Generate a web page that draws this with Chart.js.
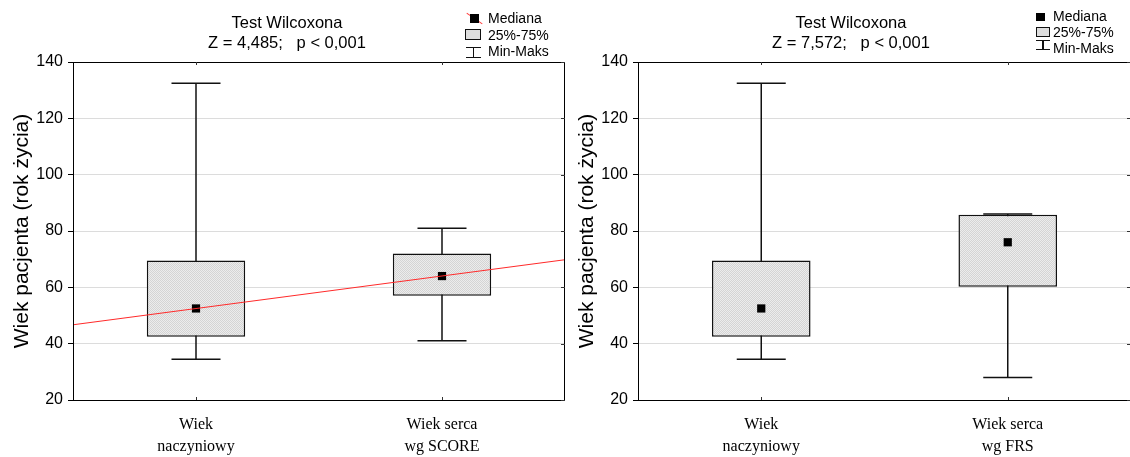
<!DOCTYPE html>
<html>
<head>
<meta charset="utf-8">
<script src="https://cdn.jsdelivr.net/npm/chart.js@4.4.1/dist/chart.umd.min.js"></script>
<style>
  html, body { margin:0; padding:0; background:#fff; }
  #wrap { position:relative; width:1130px; height:457px; overflow:hidden; font-family:"Liberation Sans", Arial, sans-serif; color:#000; }
  canvas { position:absolute; top:0; }
  .title { position:absolute; top:13px; text-align:center; font-size:16.5px; line-height:19.5px; white-space:pre; }
  .lg { position:absolute; font-size:14px; line-height:16px; white-space:nowrap; }
  .ico { position:absolute; box-sizing:border-box; }
</style>
</head>
<body>
<div id="wrap">
  <canvas id="c1" width="568" height="457" style="left:0px"></canvas>
  <canvas id="c2" width="568" height="457" style="left:565px"></canvas>

  <div class="title" style="left:187px; width:200px;">Test Wilcoxona<br>Z = 4,485;&nbsp;&nbsp;&nbsp;p &lt; 0,001</div>
  <div class="title" style="left:751px; width:200px;">Test Wilcoxona<br>Z = 7,572;&nbsp;&nbsp;&nbsp;p &lt; 0,001</div>

  <!-- left legend -->
  <div class="ico" style="left:465px; top:17.5px; width:19px; height:1px; background:#ff3b3b; transform:rotate(35deg); transform-origin:center;"></div>
  <div class="ico" style="left:469.5px; top:13.5px; width:9px; height:9px; background:#000;"></div>
  <div class="lg" style="left:488px; top:10px;">Mediana</div>
  <div class="ico" style="left:465px; top:29px; width:16px; height:11px; background:#dedede; border:1.5px solid #111;"></div>
  <div class="lg" style="left:488px; top:26.5px;">25%-75%</div>
  <div class="ico" style="left:466px; top:46.5px; width:15px; height:1.5px; background:#111;"></div>
  <div class="ico" style="left:472.8px; top:46.5px; width:1.5px; height:11px; background:#111;"></div>
  <div class="ico" style="left:466px; top:56.5px; width:15px; height:1.5px; background:#111;"></div>
  <div class="lg" style="left:488px; top:43px;">Min-Maks</div>

  <!-- right legend -->
  <div class="ico" style="left:1036px; top:12.5px; width:8.5px; height:8.5px; background:#000;"></div>
  <div class="lg" style="left:1053px; top:8px;">Mediana</div>
  <div class="ico" style="left:1035.5px; top:26.5px; width:14px; height:10.5px; background:#dedede; border:1.5px solid #111;"></div>
  <div class="lg" style="left:1053px; top:24px;">25%-75%</div>
  <div class="ico" style="left:1036px; top:39.5px; width:14px; height:1.5px; background:#111;"></div>
  <div class="ico" style="left:1042.3px; top:39.5px; width:1.5px; height:10px; background:#111;"></div>
  <div class="ico" style="left:1036px; top:48.5px; width:14px; height:1.5px; background:#111;"></div>
  <div class="lg" style="left:1053px; top:40px;">Min-Maks</div>
</div>

<script>
// ---- data ----
const categoriesLeft  = [['Wiek', 'naczyniowy'], ['Wiek serca', 'wg SCORE']];
const categoriesRight = [['Wiek', 'naczyniowy'], ['Wiek serca', 'wg FRS']];

const minLeft    = [34.5, 41.0];
const q1Left     = [42.5, 57.0];
const medianLeft = [52.5, 64.0];
const q3Left     = [69.5, 72.0];
const maxLeft    = [132.5, 81.0];

const minRight    = [34.5, 28.0];
const q1Right     = [42.5, 60.2];
const medianRight = [52.5, 76.0];
const q3Right     = [69.5, 85.8];
const maxRight    = [132.5, 86.0];

// red line through medians of the left panel, read at the plot's left/right edges
const trendX    = [-0.5, 1.5];
const trendLeft = [46.7, 69.8];

const yTicks = [20, 40, 60, 80, 100, 120, 140];
const yTitle = 'Wiek pacjenta (rok życia)';

// ---- helpers ----
function makePattern() {
  const c = document.createElement('canvas');
  c.width = 2; c.height = 2;
  const g = c.getContext('2d');
  g.fillStyle = '#ececec'; g.fillRect(0, 0, 2, 2);
  g.fillStyle = '#d4d4d4'; g.fillRect(0, 0, 1, 1); g.fillRect(1, 1, 1, 1);
  return g.createPattern(c, 'repeat');
}

const framePlugin = {
  id: 'frame',
  afterDraw(chart) {
    const {ctx, chartArea: a} = chart;
    ctx.save();
    ctx.strokeStyle = '#000';
    ctx.lineWidth = 1;
    ctx.beginPath();
    ctx.rect(Math.round(a.left) + 0.5, Math.round(a.top) + 0.5,
             Math.round(a.right - a.left) - 1, Math.round(a.bottom - a.top));
    ctx.stroke();
    ctx.strokeStyle = '#333';
    ctx.beginPath();
    const ys = chart.scales.y;
    ys.ticks.forEach(t => {
      const py = Math.round(ys.getPixelForValue(t.value)) + 0.5;
      ctx.moveTo(a.right - 4, py); ctx.lineTo(a.right, py);
    });
    const xs = chart.scales.x;
    xs.ticks.forEach((t, i) => {
      const px = Math.round(xs.getPixelForTick(i)) + 0.5;
      ctx.moveTo(px, a.bottom); ctx.lineTo(px, a.bottom - 3);
      ctx.moveTo(px, a.top); ctx.lineTo(px, a.top + 3);
    });
    ctx.stroke();
    ctx.restore();
  }
};

function build(id, cats, mins, q1s, meds, q3s, maxs, trend, padRight) {
  const pattern = makePattern();
  const datasets = [];
  // boxes
  datasets.push({
    type: 'bar',
    data: q1s.map((v, i) => [v, q3s[i]]),
    backgroundColor: pattern,
    borderColor: '#111',
    borderWidth: 1.5,
    borderSkipped: false,
    grouped: false,
    barPercentage: 0.4,
    categoryPercentage: 1.0,
    xAxisID: 'x', yAxisID: 'y',
    order: 2
  });
  // whiskers
  mins.forEach((mn, i) => {
    datasets.push({
      type: 'line',
      data: [{x: i, y: mn}, {x: i, y: maxs[i]}],
      borderColor: '#111',
      borderWidth: 1.5,
      pointStyle: 'line',
      pointRadius: 24.5,
      pointBorderWidth: 1.5,
      pointBorderColor: '#111',
      xAxisID: 'x2', yAxisID: 'y',
      order: 3
    });
  });
  // medians
  datasets.push({
    type: 'line',
    data: meds.map((v, i) => ({x: i, y: v})),
    showLine: false,
    pointStyle: 'rect',
    pointRadius: 5.8,
    pointBorderWidth: 0,
    pointBackgroundColor: '#000',
    xAxisID: 'x2', yAxisID: 'y',
    order: 1
  });
  if (trend) {
    datasets.push({
      type: 'line',
      data: trendX.map((x, i) => ({x, y: trend[i]})),
      borderColor: '#ff2a2a',
      borderWidth: 1,
      pointRadius: 0,
      xAxisID: 'x2', yAxisID: 'y',
      order: 0
    });
  }
  return new Chart(document.getElementById(id), {
    type: 'bar',
    data: { labels: cats, datasets },
    options: {
      responsive: false,
      animation: false,
      devicePixelRatio: 1,
      layout: { autoPadding: false, padding: { top: 62, right: padRight, bottom: 0, left: 0 } },
      plugins: { legend: { display: false }, tooltip: { enabled: false }, title: { display: false } },
      scales: {
        x: {
          type: 'category',
          offset: true,
          grid: { display: false, drawTicks: false },
          border: { display: false },
          ticks: {
            color: '#000',
            font: { family: '"Liberation Serif", "Times New Roman", serif', size: 16, lineHeight: 1.375 },
            padding: 14,
            maxRotation: 0, minRotation: 0, autoSkip: false
          },
          afterFit(s) { s.height = 57; s.paddingLeft = 0; s.paddingRight = 0; }
        },
        x2: { type: 'linear', min: -0.5, max: 1.5, offset: false, display: false },
        y: {
          type: 'linear',
          min: 20, max: 140,
          afterBuildTicks(s) { s.ticks = yTicks.map(v => ({value: v})); },
          grid: { color: '#dcdcdc', lineWidth: 1, tickColor: '#000', tickLength: 5 },
          border: { display: true, color: '#000', width: 1 },
          ticks: {
            color: '#000',
            font: { family: '"Liberation Sans", Arial, sans-serif', size: 16 },
            padding: 5
          },
          title: {
            display: true,
            text: yTitle,
            color: '#000',
            font: { family: '"Liberation Sans", Arial, sans-serif', size: 21 },
            padding: { top: 10, bottom: 0 }
          },
          afterFit(s) { s.width = 73; s.paddingTop = 0; s.paddingBottom = 0; }
        }
      }
    },
    plugins: [framePlugin]
  });
}

build('c1', categoriesLeft, minLeft, q1Left, medianLeft, q3Left, maxLeft, trendLeft, 3);
build('c2', categoriesRight, minRight, q1Right, medianRight, q3Right, maxRight, null, 2);
</script>
</body>
</html>
